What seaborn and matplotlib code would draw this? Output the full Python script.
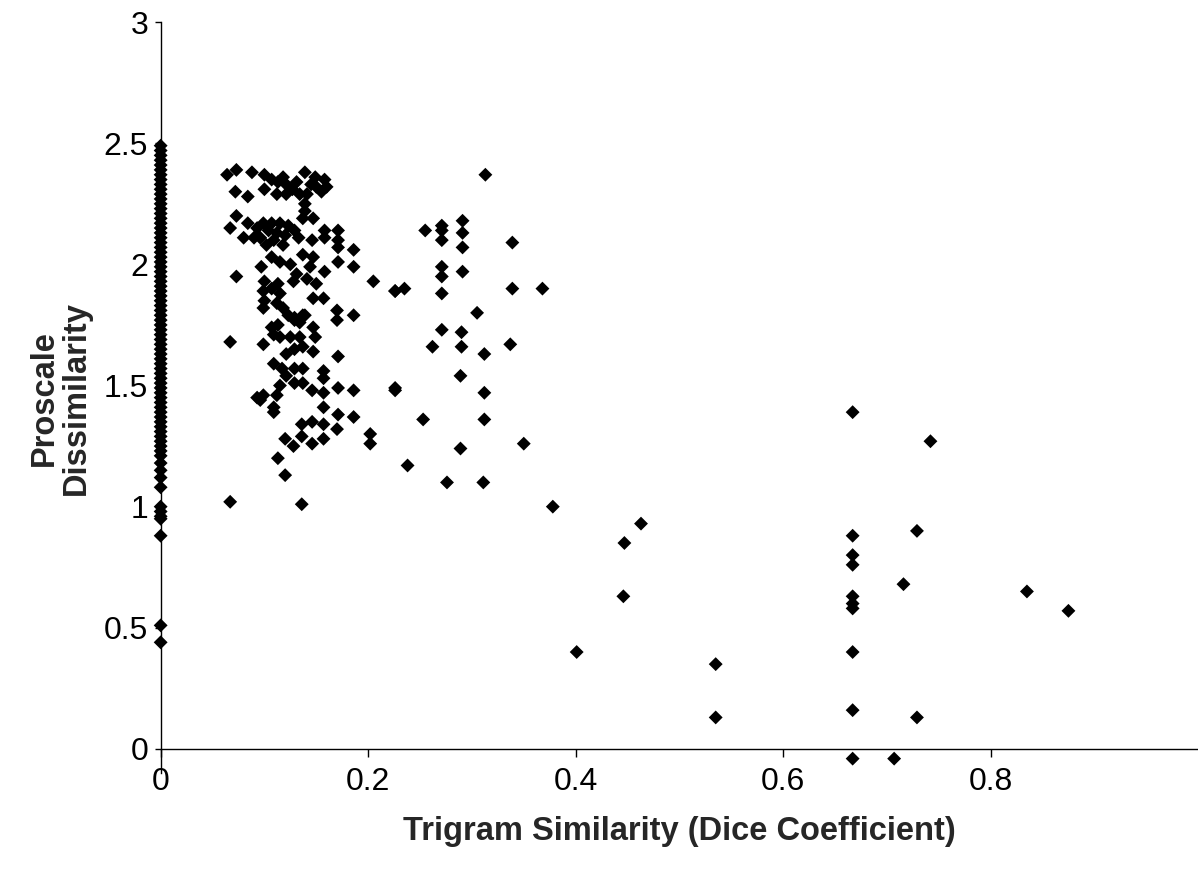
import matplotlib
matplotlib.use("Agg")
import matplotlib.pyplot as plt
import matplotlib.ticker as mticker
import pandas as pd
import seaborn as sns

# ── Dados ────────────────────────────────────────────────────────────
# pares com similaridade zero (coluna vertical em x = 0)
zero_y = [
    2.49, 2.47, 2.45, 2.43, 2.41, 2.39, 2.37, 2.35, 2.33, 2.31,
    2.29, 2.27, 2.25, 2.23, 2.21, 2.19, 2.17, 2.15, 2.13, 2.11,
    2.09, 2.07, 2.05, 2.03, 2.01, 1.99, 1.97, 1.95, 1.93, 1.91,
    1.89, 1.87, 1.85, 1.83, 1.81, 1.79, 1.77, 1.75, 1.73, 1.71,
    1.69, 1.67, 1.65, 1.63, 1.61, 1.59, 1.57, 1.55, 1.53, 1.51,
    1.49, 1.47, 1.45, 1.43, 1.41, 1.39, 1.37, 1.35, 1.33, 1.31,
    1.29, 1.27, 1.25, 1.23, 1.21, 1.18, 1.15, 1.12, 1.08, 1.00,
    0.98, 0.96, 0.95, 0.88, 0.51, 0.44,
]

# nuvem principal (0.06 a 0.24)
cluster_x = [
    0.064, 0.073, 0.088, 0.100, 0.113, 0.121, 0.131, 0.139, 0.149, 0.158,
    0.160, 0.150, 0.112, 0.121, 0.134, 0.141, 0.100, 0.072, 0.084, 0.139,
    0.139, 0.137, 0.147, 0.107, 0.118, 0.127, 0.145, 0.155,
    0.073, 0.067, 0.084, 0.080, 0.093, 0.099, 0.104, 0.115, 0.123, 0.129,
    0.096, 0.109, 0.118, 0.102, 0.090, 0.146, 0.158, 0.158, 0.171, 0.171,
    0.171, 0.171, 0.186, 0.186, 0.112, 0.120, 0.107, 0.133,
    0.097, 0.107, 0.115, 0.125, 0.137, 0.147, 0.158, 0.144, 0.131, 0.128,
    0.141, 0.150, 0.073, 0.100, 0.099, 0.100, 0.099, 0.107, 0.113, 0.115,
    0.112, 0.118, 0.123, 0.129, 0.134, 0.137, 0.147, 0.157, 0.147, 0.170,
    0.170, 0.186, 0.205, 0.226, 0.235,
    0.107, 0.113, 0.109, 0.115, 0.067, 0.099, 0.125, 0.134, 0.149, 0.139,
    0.129,
    0.121, 0.129, 0.137, 0.147, 0.109, 0.117, 0.121, 0.129, 0.137, 0.157,
    0.157, 0.171, 0.129, 0.137, 0.146, 0.157, 0.171, 0.186, 0.115, 0.112,
    0.096, 0.099, 0.093, 0.109, 0.109, 0.157, 0.171, 0.186, 0.136, 0.146,
    0.157, 0.170, 0.136, 0.146, 0.157, 0.120, 0.128, 0.113, 0.120, 0.067,
    0.136, 0.202, 0.202, 0.226,
]
cluster_y = [
    2.37, 2.39, 2.38, 2.37, 2.34, 2.33, 2.34, 2.38, 2.36, 2.35,
    2.32, 2.32, 2.29, 2.29, 2.29, 2.29, 2.31, 2.30, 2.28, 2.25,
    2.22, 2.19, 2.19, 2.35, 2.36, 2.31, 2.33, 2.30,
    2.20, 2.15, 2.17, 2.11, 2.15, 2.17, 2.14, 2.17, 2.16, 2.14,
    2.11, 2.10, 2.08, 2.08, 2.11, 2.10, 2.14, 2.11, 2.14, 2.10,
    2.07, 2.01, 2.06, 1.99, 2.13, 2.12, 2.17, 2.11,
    1.99, 2.03, 2.01, 2.00, 2.04, 2.03, 1.97, 1.99, 1.96, 1.93,
    1.94, 1.92, 1.95, 1.93, 1.89, 1.85, 1.82, 1.90, 1.92, 1.88,
    1.84, 1.82, 1.79, 1.78, 1.76, 1.79, 1.86, 1.86, 1.74, 1.81,
    1.77, 1.79, 1.93, 1.89, 1.90,
    1.74, 1.75, 1.71, 1.70, 1.68, 1.67, 1.70, 1.70, 1.70, 1.79,
    1.77,
    1.63, 1.65, 1.66, 1.64, 1.59, 1.57, 1.54, 1.57, 1.57, 1.56,
    1.53, 1.62, 1.51, 1.51, 1.48, 1.47, 1.49, 1.48, 1.50, 1.46,
    1.44, 1.46, 1.45, 1.41, 1.39, 1.41, 1.38, 1.37, 1.34, 1.35,
    1.34, 1.32, 1.29, 1.26, 1.28, 1.28, 1.25, 1.20, 1.13, 1.02,
    1.01, 1.30, 1.26, 1.48,
]

# grupo intermediário (0.22 a 0.37)
mid_x = [
    0.313, 0.291, 0.271, 0.271, 0.271, 0.255, 0.291, 0.291, 0.339, 0.271,
    0.271, 0.291, 0.226, 0.271, 0.339, 0.368, 0.305, 0.271, 0.290, 0.290,
    0.262, 0.312, 0.337, 0.289, 0.226, 0.312, 0.253, 0.312, 0.350, 0.289,
    0.238, 0.276, 0.311,
]
mid_y = [
    2.37, 2.18, 2.16, 2.14, 2.10, 2.14, 2.13, 2.07, 2.09, 1.99,
    1.95, 1.97, 1.89, 1.88, 1.90, 1.90, 1.80, 1.73, 1.72, 1.66,
    1.66, 1.63, 1.67, 1.54, 1.49, 1.47, 1.36, 1.36, 1.26, 1.24,
    1.17, 1.10, 1.10,
]

# pontos isolados à direita
tail_x = [
    0.378, 0.447, 0.446, 0.401, 0.463, 0.535, 0.535, 0.667, 0.667, 0.667,
    0.667, 0.667, 0.667, 0.667, 0.667, 0.667, 0.667, 0.707, 0.716, 0.729,
    0.729, 0.742, 0.835, 0.875,
]
tail_y = [
    1.00, 0.85, 0.63, 0.40, 0.93, 0.35, 0.13, 1.39, 0.88, 0.80,
    0.76, 0.63, 0.60, 0.58, 0.40, 0.16, -0.04, -0.04, 0.68, 0.90,
    0.13, 1.27, 0.65, 0.57,
]

X_TICKS = [0, 0.2, 0.4, 0.6, 0.8]
Y_TICKS = [0, 0.5, 1, 1.5, 2, 2.5, 3]

df = pd.DataFrame({
    "trigram": [0.0] * len(zero_y) + cluster_x + mid_x + tail_x,
    "proscale": zero_y + cluster_y + mid_y + tail_y,
})

sns.set_theme(style="white")
plt.rcParams.update({
    "font.family": ["Liberation Sans", "DejaVu Sans"],
    "axes.edgecolor": "black",
    "axes.linewidth": 1.0,
    "xtick.color": "black",
    "ytick.color": "black",
})

fig = plt.figure(figsize=(11.98, 8.77), dpi=100)
ax = fig.add_axes([0.1341, 0.1184, 0.866, 0.8564])

sns.scatterplot(
    data=df, x="trigram", y="proscale", ax=ax,
    marker="D", s=50, color="black", edgecolor="none", linewidth=0,
    legend=False, clip_on=False, zorder=3,
)

ax.set_xlim(0, 1.0)
ax.set_ylim(-0.1, 3.0)
ax.spines["bottom"].set_position(("data", 0))
ax.spines["top"].set_visible(False)
ax.spines["right"].set_visible(False)

ax.set_xticks(X_TICKS)
ax.set_yticks(Y_TICKS)
fmt = mticker.FuncFormatter(lambda v, _: f"{v:g}")
ax.xaxis.set_major_formatter(fmt)
ax.yaxis.set_major_formatter(fmt)
ax.tick_params(axis="x", direction="out", length=6, width=1, pad=7, labelsize=23, bottom=True)
ax.tick_params(axis="y", direction="out", length=4, width=1, pad=5, labelsize=23, left=True)

ax.set_xlabel("Trigram Similarity (Dice Coefficient)", fontsize=23.5, fontweight="bold", labelpad=14)
ax.set_ylabel("Proscale\nDissimilarity", fontsize=23.5, fontweight="bold", linespacing=1.05)
ax.yaxis.set_label_coords(-0.066, 0.5)

fig.savefig("out.png", dpi=100)
